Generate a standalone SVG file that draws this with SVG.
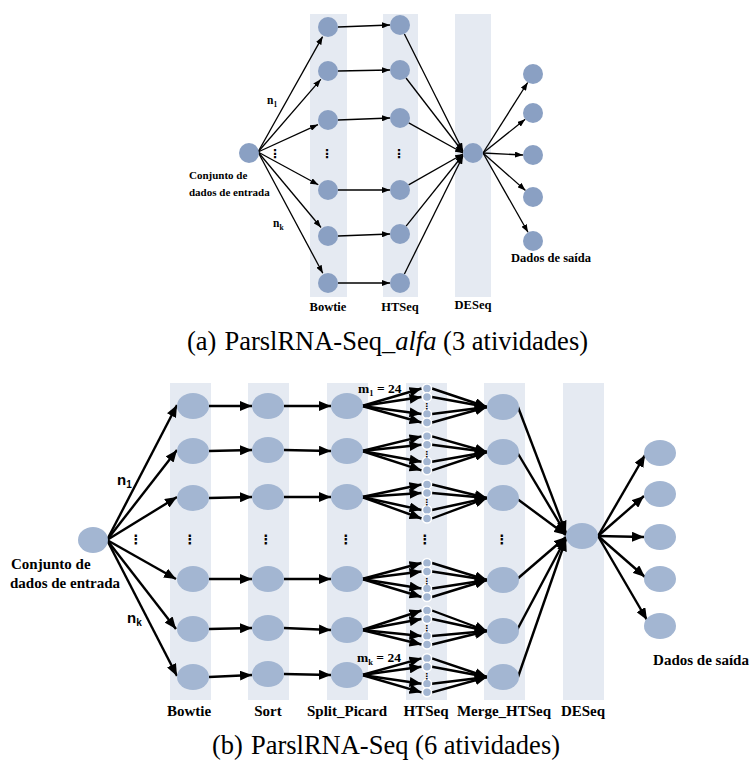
<svg xmlns="http://www.w3.org/2000/svg" width="751" height="761" viewBox="0 0 751 761">
<style>
.band{fill:#e5eaf2}
.tn{fill:#8aa0c3}
.bn{fill:#a3b6d2}
.sn{fill:#a3b6d2;stroke:#fff;stroke-width:1.5}
.te{stroke:#000;stroke-width:1.3;fill:none;marker-end:url(#ta)}
.be{stroke:#000;stroke-width:2.4;fill:none;marker-end:url(#ba)}
.lbl{font-family:"Liberation Serif","Times New Roman",serif;font-weight:bold;fill:#000}
.cap{font-family:"Liberation Serif","Times New Roman",serif;font-size:26.5px;fill:#000}
.dots{font-family:"DejaVu Sans",sans-serif;font-weight:bold;fill:#000;text-anchor:middle}
.sans{font-family:"Liberation Sans",Arial,sans-serif;font-weight:bold;fill:#000}
</style>
<defs>
<marker id="ta" markerUnits="userSpaceOnUse" markerWidth="8" markerHeight="6" refX="8" refY="3" orient="auto"><path d="M0,0 L8,3 L0,6 z" fill="#000"/></marker>
<marker id="ba" markerUnits="userSpaceOnUse" markerWidth="12" markerHeight="10" refX="12" refY="5" orient="auto"><path d="M0,0 L12,5 L0,10 z" fill="#000"/></marker>
</defs>
<rect width="751" height="761" fill="#fff"/>

<!-- ===== Diagram (a) ===== -->
<g id="a-bands">
<rect class="band" x="310" y="14" width="37" height="283"/>
<rect class="band" x="383" y="14" width="35" height="283"/>
<rect class="band" x="455" y="14" width="36" height="283"/>
</g>
<g id="a-edges">
<line class="te" x1="258" y1="152" x2="322.6" y2="36.6"/>
<line class="te" x1="258" y1="152" x2="320.8" y2="79.3"/>
<line class="te" x1="258" y1="152" x2="318" y2="124.6"/>
<line class="te" x1="258" y1="152" x2="318.3" y2="184.8"/>
<line class="te" x1="258" y1="152" x2="321" y2="227.5"/>
<line class="te" x1="258" y1="152" x2="322.8" y2="273.3"/>
<line class="te" x1="338" y1="27" x2="390" y2="25"/>
<line class="te" x1="338" y1="71" x2="390" y2="70"/>
<line class="te" x1="338" y1="120" x2="390" y2="118"/>
<line class="te" x1="338" y1="190" x2="390" y2="190"/>
<line class="te" x1="338" y1="236" x2="390" y2="234"/>
<line class="te" x1="338" y1="283" x2="390" y2="283"/>
<line class="te" x1="404.4" y1="34" x2="463" y2="151"/>
<line class="te" x1="406" y1="78" x2="463" y2="152"/>
<line class="te" x1="408.7" y1="122.9" x2="463" y2="153"/>
<line class="te" x1="408.6" y1="184.9" x2="463" y2="154"/>
<line class="te" x1="406.1" y1="226.1" x2="463" y2="155"/>
<line class="te" x1="404.4" y1="274" x2="463" y2="156"/>
<line class="te" x1="483" y1="153" x2="527.7" y2="82.5"/>
<line class="te" x1="483" y1="153" x2="525.2" y2="119.3"/>
<line class="te" x1="483" y1="153" x2="523" y2="155"/>
<line class="te" x1="483" y1="153" x2="525.5" y2="190.4"/>
<line class="te" x1="483" y1="153" x2="528" y2="232.3"/>
</g>
<g id="a-input"><circle class="tn" cx="249" cy="153" r="10"/></g>
<g id="a-bowtie">
<circle class="tn" cx="328" cy="27" r="10"/><circle class="tn" cx="328" cy="71" r="10"/><circle class="tn" cx="328" cy="120" r="10"/>
<circle class="tn" cx="328" cy="190" r="10"/><circle class="tn" cx="328" cy="236" r="10"/><circle class="tn" cx="328" cy="283" r="10"/>
</g>
<g id="a-htseq">
<circle class="tn" cx="400" cy="25" r="10"/><circle class="tn" cx="400" cy="70" r="10"/><circle class="tn" cx="400" cy="118" r="10"/>
<circle class="tn" cx="400" cy="190" r="10"/><circle class="tn" cx="400" cy="234" r="10"/><circle class="tn" cx="400" cy="283" r="10"/>
</g>
<g id="a-deseq"><circle class="tn" cx="473" cy="153" r="10"/></g>
<g id="a-output">
<circle class="tn" cx="533" cy="74" r="10"/><circle class="tn" cx="533" cy="113" r="10"/><circle class="tn" cx="533" cy="155" r="10"/>
<circle class="tn" cx="533" cy="197" r="10"/><circle class="tn" cx="533" cy="241" r="10"/>
</g>
<g id="a-labels">
<text class="dots" x="275" y="158" font-size="12">⋮</text>
<text class="dots" x="327" y="158" font-size="12">⋮</text>
<text class="dots" x="399" y="158" font-size="12">⋮</text>
<text class="lbl" x="267" y="104" font-size="11.5">n<tspan font-size="7.5" dy="3">1</tspan></text>
<text class="lbl" x="273" y="227" font-size="11.5">n<tspan font-size="7.5" dy="3">k</tspan></text>
<text class="lbl" x="189" y="179" font-size="11">Conjunto de</text>
<text class="lbl" x="189" y="196" font-size="11">dados de entrada</text>
<text class="lbl" x="328" y="311" font-size="12.5" text-anchor="middle">Bowtie</text>
<text class="lbl" x="400" y="311" font-size="12.5" text-anchor="middle">HTSeq</text>
<text class="lbl" x="473" y="309" font-size="12.5" text-anchor="middle">DESeq</text>
<text class="lbl" x="551" y="262" font-size="12.5" text-anchor="middle">Dados de saída</text>
</g>
<text class="cap" x="187" y="350">(a)<tspan dx="8">ParslRNA-Seq_</tspan><tspan font-style="italic">alfa</tspan> (3 atividades)</text>

<!-- ===== Diagram (b) ===== -->
<g id="b-bands">
<rect class="band" x="170" y="383" width="41" height="317"/>
<rect class="band" x="248" y="383" width="41" height="317"/>
<rect class="band" x="327" y="383" width="41" height="317"/>
<rect class="band" x="406" y="383" width="41" height="317"/>
<rect class="band" x="484" y="383" width="41" height="317"/>
<rect class="band" x="563" y="383" width="41" height="317"/>
</g>
<g id="b-edges">
<line class="be" x1="107" y1="540" x2="177" y2="405"/>
<line class="be" x1="107" y1="540" x2="177" y2="450"/>
<line class="be" x1="107" y1="540" x2="177" y2="497"/>
<line class="be" x1="107" y1="540" x2="176" y2="579"/>
<line class="be" x1="107" y1="540" x2="176" y2="629"/>
<line class="be" x1="107" y1="540" x2="177" y2="676"/>
<line class="be" x1="209" y1="406" x2="252" y2="406"/>
<line class="be" x1="209" y1="451" x2="252" y2="450"/>
<line class="be" x1="209" y1="498" x2="252" y2="497"/>
<line class="be" x1="209" y1="579" x2="252" y2="579"/>
<line class="be" x1="209" y1="629" x2="252" y2="628"/>
<line class="be" x1="209" y1="677" x2="252" y2="675"/>
<line class="be" x1="284" y1="406" x2="331" y2="406"/>
<line class="be" x1="284" y1="450" x2="331" y2="451"/>
<line class="be" x1="284" y1="497" x2="331" y2="497"/>
<line class="be" x1="284" y1="579" x2="331" y2="579"/>
<line class="be" x1="284" y1="628" x2="331" y2="630"/>
<line class="be" x1="284" y1="674" x2="331" y2="675"/>
<!-- split -> htseq -->
<line class="be" x1="362" y1="406" x2="421.5" y2="388.5"/><line class="be" x1="362" y1="406" x2="421.5" y2="397"/><line class="be" x1="362" y1="406" x2="421.5" y2="414"/><line class="be" x1="362" y1="406" x2="421.5" y2="422.5"/>
<line class="be" x1="362" y1="451" x2="421.5" y2="436.3"/><line class="be" x1="362" y1="451" x2="421.5" y2="444.8"/><line class="be" x1="362" y1="451" x2="421.5" y2="461.8"/><line class="be" x1="362" y1="451" x2="421.5" y2="470.3"/>
<line class="be" x1="362" y1="497" x2="421.5" y2="484.5"/><line class="be" x1="362" y1="497" x2="421.5" y2="493"/><line class="be" x1="362" y1="497" x2="421.5" y2="510"/><line class="be" x1="362" y1="497" x2="421.5" y2="518.5"/>
<line class="be" x1="362" y1="579" x2="421.5" y2="563"/><line class="be" x1="362" y1="579" x2="421.5" y2="571.5"/><line class="be" x1="362" y1="579" x2="421.5" y2="588.5"/><line class="be" x1="362" y1="579" x2="421.5" y2="597"/>
<line class="be" x1="362" y1="630" x2="421.5" y2="610.5"/><line class="be" x1="362" y1="630" x2="421.5" y2="619"/><line class="be" x1="362" y1="630" x2="421.5" y2="636"/><line class="be" x1="362" y1="630" x2="421.5" y2="644.5"/>
<line class="be" x1="362" y1="675" x2="421.5" y2="658.3"/><line class="be" x1="362" y1="675" x2="421.5" y2="666.8"/><line class="be" x1="362" y1="675" x2="421.5" y2="683.8"/><line class="be" x1="362" y1="675" x2="421.5" y2="692.3"/>
<!-- htseq -> merge -->
<line class="be" x1="432" y1="388.5" x2="487" y2="407"/><line class="be" x1="432" y1="397" x2="487" y2="407"/><line class="be" x1="432" y1="414" x2="487" y2="407"/><line class="be" x1="432" y1="422.5" x2="487" y2="407"/>
<line class="be" x1="432" y1="436.3" x2="487" y2="452"/><line class="be" x1="432" y1="444.8" x2="487" y2="452"/><line class="be" x1="432" y1="461.8" x2="487" y2="452"/><line class="be" x1="432" y1="470.3" x2="487" y2="452"/>
<line class="be" x1="432" y1="484.5" x2="487" y2="498"/><line class="be" x1="432" y1="493" x2="487" y2="498"/><line class="be" x1="432" y1="510" x2="487" y2="498"/><line class="be" x1="432" y1="518.5" x2="487" y2="498"/>
<line class="be" x1="432" y1="563" x2="487" y2="580"/><line class="be" x1="432" y1="571.5" x2="487" y2="580"/><line class="be" x1="432" y1="588.5" x2="487" y2="580"/><line class="be" x1="432" y1="597" x2="487" y2="580"/>
<line class="be" x1="432" y1="610.5" x2="487" y2="631"/><line class="be" x1="432" y1="619" x2="487" y2="631"/><line class="be" x1="432" y1="636" x2="487" y2="631"/><line class="be" x1="432" y1="644.5" x2="487" y2="631"/>
<line class="be" x1="432" y1="658.3" x2="487" y2="677"/><line class="be" x1="432" y1="666.8" x2="487" y2="677"/><line class="be" x1="432" y1="683.8" x2="487" y2="677"/><line class="be" x1="432" y1="692.3" x2="487" y2="677"/>
<!-- merge -> deseq -->
<line class="be" x1="518" y1="407" x2="566" y2="533"/>
<line class="be" x1="517" y1="452" x2="566" y2="534"/>
<line class="be" x1="516" y1="498" x2="566" y2="535"/>
<line class="be" x1="516" y1="580" x2="566" y2="537"/>
<line class="be" x1="516" y1="632" x2="566" y2="538"/>
<line class="be" x1="518" y1="677" x2="566" y2="539"/>
<!-- deseq -> outputs -->
<line class="be" x1="598" y1="536" x2="645" y2="455"/>
<line class="be" x1="598" y1="536" x2="644" y2="496"/>
<line class="be" x1="598" y1="536" x2="644" y2="537"/>
<line class="be" x1="598" y1="536" x2="645" y2="577"/>
<line class="be" x1="598" y1="536" x2="647" y2="620"/>
</g>
<g id="b-input"><ellipse class="bn" cx="93" cy="540" rx="15" ry="13"/></g>
<g id="b-bowtie">
<ellipse class="bn" cx="193" cy="406" rx="16" ry="13"/><ellipse class="bn" cx="193" cy="451" rx="16" ry="13"/><ellipse class="bn" cx="193" cy="498" rx="16" ry="13"/>
<ellipse class="bn" cx="193" cy="579" rx="16" ry="13"/><ellipse class="bn" cx="193" cy="629" rx="16" ry="13"/><ellipse class="bn" cx="193" cy="677" rx="16" ry="13"/>
</g>
<g id="b-sort">
<ellipse class="bn" cx="268" cy="406" rx="16" ry="13"/><ellipse class="bn" cx="268" cy="450" rx="16" ry="13"/><ellipse class="bn" cx="268" cy="497" rx="16" ry="13"/>
<ellipse class="bn" cx="268" cy="579" rx="16" ry="13"/><ellipse class="bn" cx="268" cy="628" rx="16" ry="13"/><ellipse class="bn" cx="268" cy="674" rx="16" ry="13"/>
</g>
<g id="b-split">
<ellipse class="bn" cx="347" cy="406" rx="16" ry="13"/><ellipse class="bn" cx="347" cy="451" rx="16" ry="13"/><ellipse class="bn" cx="347" cy="497" rx="16" ry="13"/>
<ellipse class="bn" cx="347" cy="579" rx="16" ry="13"/><ellipse class="bn" cx="347" cy="630" rx="16" ry="13"/><ellipse class="bn" cx="347" cy="675" rx="16" ry="13"/>
</g>
<g id="b-htseq">
<circle class="sn" cx="427" cy="388.5" r="4.5"/><circle class="sn" cx="427" cy="397" r="4.5"/><circle class="sn" cx="427" cy="414" r="4.5"/><circle class="sn" cx="427" cy="422.5" r="4.5"/>
<circle class="sn" cx="427" cy="436.3" r="4.5"/><circle class="sn" cx="427" cy="444.8" r="4.5"/><circle class="sn" cx="427" cy="461.8" r="4.5"/><circle class="sn" cx="427" cy="470.3" r="4.5"/>
<circle class="sn" cx="427" cy="484.5" r="4.5"/><circle class="sn" cx="427" cy="493" r="4.5"/><circle class="sn" cx="427" cy="510" r="4.5"/><circle class="sn" cx="427" cy="518.5" r="4.5"/>
<circle class="sn" cx="427" cy="563" r="4.5"/><circle class="sn" cx="427" cy="571.5" r="4.5"/><circle class="sn" cx="427" cy="588.5" r="4.5"/><circle class="sn" cx="427" cy="597" r="4.5"/>
<circle class="sn" cx="427" cy="610.5" r="4.5"/><circle class="sn" cx="427" cy="619" r="4.5"/><circle class="sn" cx="427" cy="636" r="4.5"/><circle class="sn" cx="427" cy="644.5" r="4.5"/>
<circle class="sn" cx="427" cy="658.3" r="4.5"/><circle class="sn" cx="427" cy="666.8" r="4.5"/><circle class="sn" cx="427" cy="683.8" r="4.5"/><circle class="sn" cx="427" cy="692.3" r="4.5"/>
<text class="dots" x="427" y="409" font-size="8">⋮</text>
<text class="dots" x="427" y="457" font-size="8">⋮</text>
<text class="dots" x="427" y="505" font-size="8">⋮</text>
<text class="dots" x="427" y="583.5" font-size="8">⋮</text>
<text class="dots" x="427" y="631" font-size="8">⋮</text>
<text class="dots" x="427" y="679" font-size="8">⋮</text>
</g>
<g id="b-merge">
<ellipse class="bn" cx="503" cy="407" rx="16" ry="13"/><ellipse class="bn" cx="503" cy="452" rx="16" ry="13"/><ellipse class="bn" cx="503" cy="498" rx="16" ry="13"/>
<ellipse class="bn" cx="503" cy="580" rx="16" ry="13"/><ellipse class="bn" cx="503" cy="631" rx="16" ry="13"/><ellipse class="bn" cx="503" cy="677" rx="16" ry="13"/>
</g>
<g id="b-deseq"><ellipse class="bn" cx="582" cy="536" rx="16" ry="13"/></g>
<g id="b-output">
<ellipse class="bn" cx="660" cy="453" rx="16" ry="13"/><ellipse class="bn" cx="660" cy="494" rx="16" ry="13"/><ellipse class="bn" cx="660" cy="537" rx="16" ry="13"/>
<ellipse class="bn" cx="660" cy="579" rx="16" ry="13"/><ellipse class="bn" cx="660" cy="626" rx="16" ry="13"/>
</g>
<g id="b-labels">
<text class="dots" x="136" y="544" font-size="13">⋮</text>
<text class="dots" x="190" y="544" font-size="13">⋮</text>
<text class="dots" x="266" y="544" font-size="13">⋮</text>
<text class="dots" x="346" y="544" font-size="13">⋮</text>
<text class="dots" x="425" y="544" font-size="13">⋮</text>
<text class="dots" x="502" y="544" font-size="13">⋮</text>
<text class="sans" x="117" y="485" font-size="15">n<tspan font-size="10" dy="3">1</tspan></text>
<text class="sans" x="127" y="623" font-size="15">n<tspan font-size="10" dy="3">k</tspan></text>
<text class="lbl" x="11" y="569" font-size="15">Conjunto de</text>
<text class="lbl" x="10" y="588" font-size="15">dados de entrada</text>
<text class="lbl" x="358" y="393" font-size="13.5">m<tspan font-size="8.5" dy="3">1</tspan><tspan dy="-3"> = 24</tspan></text>
<text class="lbl" x="357" y="662" font-size="13.5">m<tspan font-size="8.5" dy="3">k</tspan><tspan dy="-3"> = 24</tspan></text>
<text class="lbl" x="701" y="665" font-size="15" text-anchor="middle">Dados de saída</text>
<text class="lbl" x="189" y="716" font-size="15" text-anchor="middle">Bowtie</text>
<text class="lbl" x="268" y="716" font-size="15" text-anchor="middle">Sort</text>
<text class="lbl" x="347" y="716" font-size="15" text-anchor="middle">Split_Picard</text>
<text class="lbl" x="426" y="716" font-size="15" text-anchor="middle">HTSeq</text>
<text class="lbl" x="504" y="716" font-size="15" text-anchor="middle">Merge_HTSeq</text>
<text class="lbl" x="583" y="716" font-size="15" text-anchor="middle">DESeq</text>
</g>
<text class="cap" x="212" y="754">(b)<tspan dx="8">ParslRNA-Seq (6 atividades)</tspan></text>
</svg>
